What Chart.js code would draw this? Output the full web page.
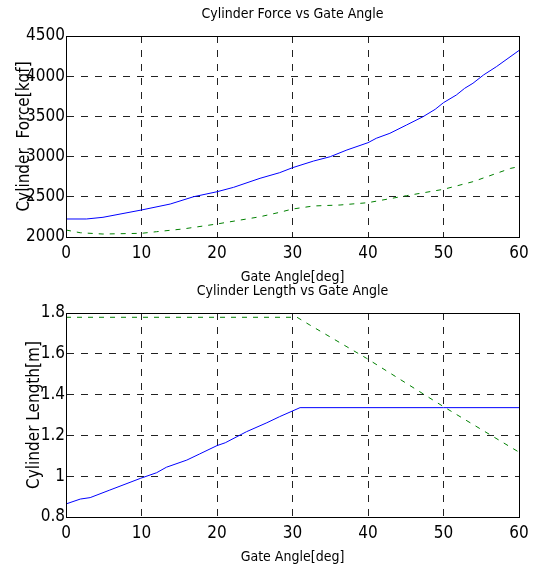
<!DOCTYPE html>
<html lang="en">
<head>
<meta charset="UTF-8">
<title>Cylinder Force / Length vs Gate Angle</title>
<script src="https://cdn.jsdelivr.net/npm/chart.js"></script>
<style>
  body { margin: 0; background: #fff; }
  #wrap { position: relative; width: 535px; height: 568px; }
  canvas { position: absolute; left: 0; }
</style>
</head>
<body>
<div id="wrap">
  <canvas id="forceChart" width="535" height="287" style="top:0"></canvas>
  <canvas id="lengthChart" width="535" height="290" style="top:277px"></canvas>
</div>
<script>
// ---- data ----
const angleTicks = [0, 10, 20, 30, 40, 50, 60];

// top: cylinder force [kgf]
const forceSolidAngle = [0, 2.7, 4.9, 10, 13.8, 16.9, 20, 22.2, 25.7, 28.3, 30, 32.8, 35, 37.2, 40, 41.1, 42.9, 45.1, 47.3, 48.9, 50, 51.7, 52.8, 53.9, 55.3, 57, 60];
const forceSolid = [2224, 2224, 2245, 2336, 2410, 2501, 2563, 2618, 2730, 2800, 2862, 2945, 2999, 3082, 3173, 3228, 3290, 3393, 3497, 3588, 3671, 3766, 3849, 3912, 4015, 4118, 4320];
const forceDashAngle = [0, 1.9, 4.9, 10, 12, 15.5, 20, 25.7, 28.3, 30, 32.8, 36.3, 40, 45.1, 50, 53.9, 58.9, 60];
const forceDash = [2087, 2053, 2037, 2046, 2066, 2100, 2162, 2252, 2307, 2348, 2386, 2398, 2427, 2514, 2593, 2688, 2854, 2875];
const forceTicks = [2000, 2500, 3000, 3500, 4000, 4500];

// bottom: cylinder length [m]
const lengthSolidAngle = [0, 1.9, 3.2, 5.8, 9.9, 12, 13.3, 16, 17.7, 20, 21.1, 23.9, 26.6, 28.3, 31, 40, 50, 60];
const lengthSolid = [0.864, 0.888, 0.895, 0.932, 0.99, 1.017, 1.044, 1.079, 1.109, 1.15, 1.164, 1.218, 1.262, 1.292, 1.336, 1.336, 1.336, 1.336];
const lengthDashAngle = [0, 10, 20, 30.6, 32.3, 39.8, 50, 59, 60];
const lengthDash = [1.779, 1.779, 1.779, 1.779, 1.741, 1.578, 1.341, 1.14, 1.118];
const lengthTicks = [0.8, 1.0, 1.2, 1.4, 1.6, 1.8];

const FONT = "'DejaVu Sans Condensed', 'Liberation Sans', Arial, sans-serif";

function pairs(xs, ys) {
  return xs.map((x, i) => ({ x: x, y: ys[i] }));
}

// title over the plot box + full frame around it
const boxAndTitle = {
  id: 'boxAndTitle',
  afterDraw(chart, args, opts) {
    const { ctx, chartArea: a } = chart;
    ctx.save();
    ctx.strokeStyle = '#000';
    ctx.lineWidth = 1;
    ctx.strokeRect(Math.round(a.left) + 0.5, Math.round(a.top) + 0.5,
                   Math.round(a.right - a.left), Math.round(a.bottom - a.top));
    ctx.fillStyle = '#000';
    ctx.font = '14px ' + FONT;
    ctx.textAlign = 'center';
    ctx.textBaseline = 'middle';
    ctx.fillText(opts.text, (a.left + a.right) / 2, opts.y);
    ctx.restore();
  }
};

function makeChart(id, o) {
  const gridLine = { color: '#222', lineWidth: 1, drawTicks: false };
  const border = { color: '#000', dash: [7, 7] };
  return new Chart(document.getElementById(id), {
    type: 'line',
    data: {
      datasets: [
        { data: pairs(o.solidX, o.solidY), borderColor: '#0000ff', borderWidth: 1,
          pointRadius: 0, tension: 0, fill: false },
        { data: pairs(o.dashX, o.dashY), borderColor: '#008000', borderWidth: 1,
          borderDash: [5, 6], pointRadius: 0, tension: 0, fill: false }
      ]
    },
    options: {
      responsive: false,
      animation: false,
      layout: { padding: { top: 36, right: 16, left: 0, bottom: 0 } },
      plugins: {
        legend: { display: false },
        tooltip: { enabled: false },
        boxAndTitle: { text: o.title, y: 14 }
      },
      scales: {
        x: {
          type: 'linear', min: 0, max: 60,
          afterBuildTicks: s => { s.ticks = angleTicks.map(v => ({ value: v })); },
          afterFit: s => { s.height = 50; },
          grid: gridLine, border: border,
          ticks: { padding: 6, maxRotation: 0, color: '#000', font: { family: FONT, size: 17 },
                   callback: v => String(v) },
          title: { display: true, text: 'Gate Angle[deg]', color: '#000',
                   font: { family: FONT, size: 14 }, padding: { top: 0, bottom: 1 } }
        },
        y: {
          min: o.yTicks[0], max: o.yTicks[o.yTicks.length - 1],
          afterBuildTicks: s => { s.ticks = o.yTicks.map(v => ({ value: v })); },
          afterFit: s => { s.width = 66; },
          grid: gridLine, border: border,
          ticks: { padding: 1, color: '#000', font: { family: FONT, size: 17 },
                   callback: v => String(parseFloat(v.toFixed(2))) },
          title: { display: true, text: o.yTitle, color: '#000',
                   font: { family: FONT, size: 17 }, padding: { top: o.yTitlePad, bottom: 0 } }
        }
      }
    },
    plugins: [boxAndTitle]
  });
}

makeChart('forceChart', {
  title: 'Cylinder Force vs Gate Angle',
  yTitle: 'Cylinder  Force[kgf]',
  yTitlePad: 14,
  yTicks: forceTicks,
  solidX: forceSolidAngle, solidY: forceSolid,
  dashX: forceDashAngle, dashY: forceDash
});

makeChart('lengthChart', {
  title: 'Cylinder Length vs Gate Angle',
  yTitle: 'Cylinder Length[m]',
  yTitlePad: 24,
  yTicks: lengthTicks,
  solidX: lengthSolidAngle, solidY: lengthSolid,
  dashX: lengthDashAngle, dashY: lengthDash
});
</script>
</body>
</html>
